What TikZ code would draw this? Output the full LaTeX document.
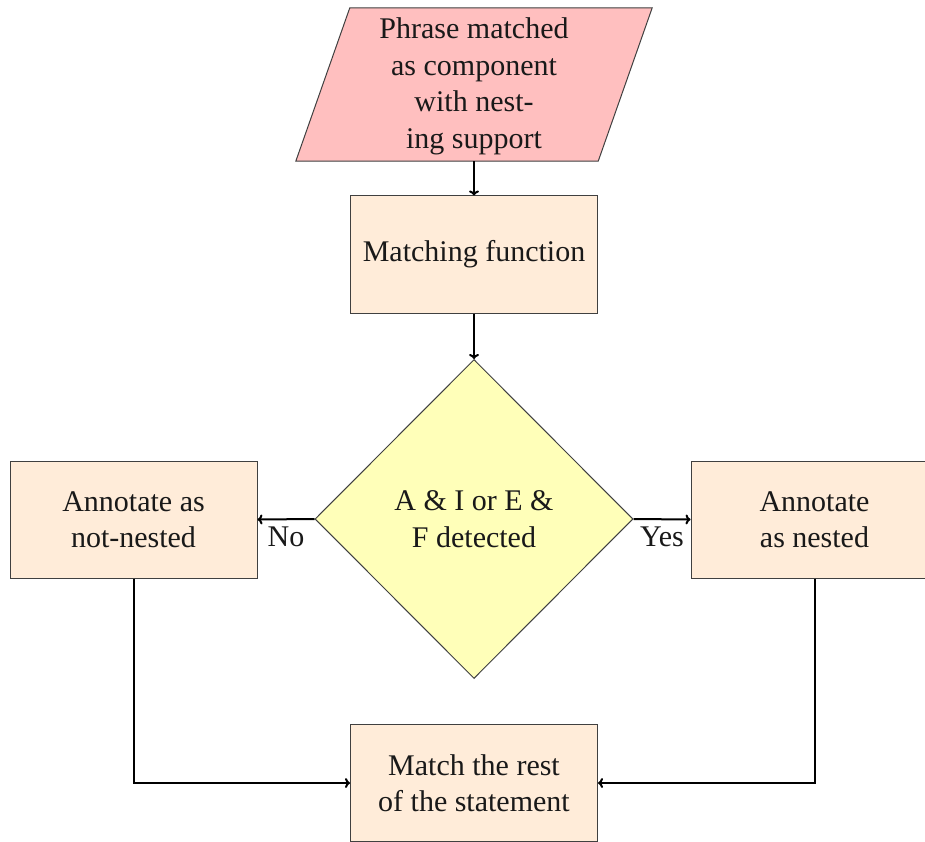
\documentclass[tikz,border=0pt]{standalone}
\usepackage{fontspec}
\setmainfont{Liberation Serif}
\usetikzlibrary{shapes.geometric,arrows.meta}
\definecolor{pinkfill}{RGB}{255,191,191}
\definecolor{boxfill}{RGB}{255,236,217}
\definecolor{diafill}{RGB}{255,255,185}
\tikzset{
  txt/.style={font=\fontsize{30}{36.5}\selectfont, align=center, text=black!90},
  procbox/.style={txt, rectangle, draw=black!75, line width=1pt, fill=boxfill, minimum width=247pt, minimum height=117pt, inner sep=0pt},
  decision/.style={txt, diamond, draw=black!75, line width=1pt, fill=diafill, minimum width=318pt, minimum height=319pt, inner sep=0pt},
  conn/.style={line width=2pt, -{To[length=5pt,width=10pt]}},
  lbl/.style={font=\fontsize{30}{36}\selectfont, text=black!90, yshift=-3pt}
}
\begin{document}
\begin{tikzpicture}[x=1pt,y=1pt]
\useasboundingbox (0,0) rectangle (925,-842);
% input parallelogram
\node[txt, rectangle, minimum width=302pt, minimum height=153pt, inner sep=0pt] (input) at (474,-84.5) {};
\filldraw[fill=pinkfill, draw=black!75, line width=1pt]
  ([xshift=27pt]input.north west) -- ([xshift=27pt]input.north east)
  -- ([xshift=-27pt]input.south east) -- ([xshift=-27pt]input.south west) -- cycle;
\node[txt] at ([yshift=-2pt]input.center) {Phrase matched\\as component\\with nest-\\ing support};
\node[procbox] (match) at (474,-254.5) {Matching function};
\node[decision] (dec) at (474,-519) {A \& I or E \&\\F detected};
\node[procbox] (notnested) at (133.5,-519.5) {Annotate as\\not-nested};
\node[procbox] (nested) at (814.5,-519.5) {Annotate\\as nested};
\node[procbox] (rest) at (474,-783) {Match the rest\\of the statement};
\coordinate (lc) at (notnested.south |- rest.west);
\coordinate (rc) at (nested.south |- rest.east);
\draw[conn] (input.south) -- (match.north);
\draw[conn] (match.south) -- (dec.north);
\draw[conn] (dec.west) -- node[lbl, below] {No} (notnested.east);
\draw[conn] (dec.east) -- node[lbl, below] {Yes} (nested.west);
\draw[conn] (notnested.south) -- (lc) -- (rest.west);
\draw[conn] (nested.south) -- (rc) -- (rest.east);
\end{tikzpicture}
\end{document}
